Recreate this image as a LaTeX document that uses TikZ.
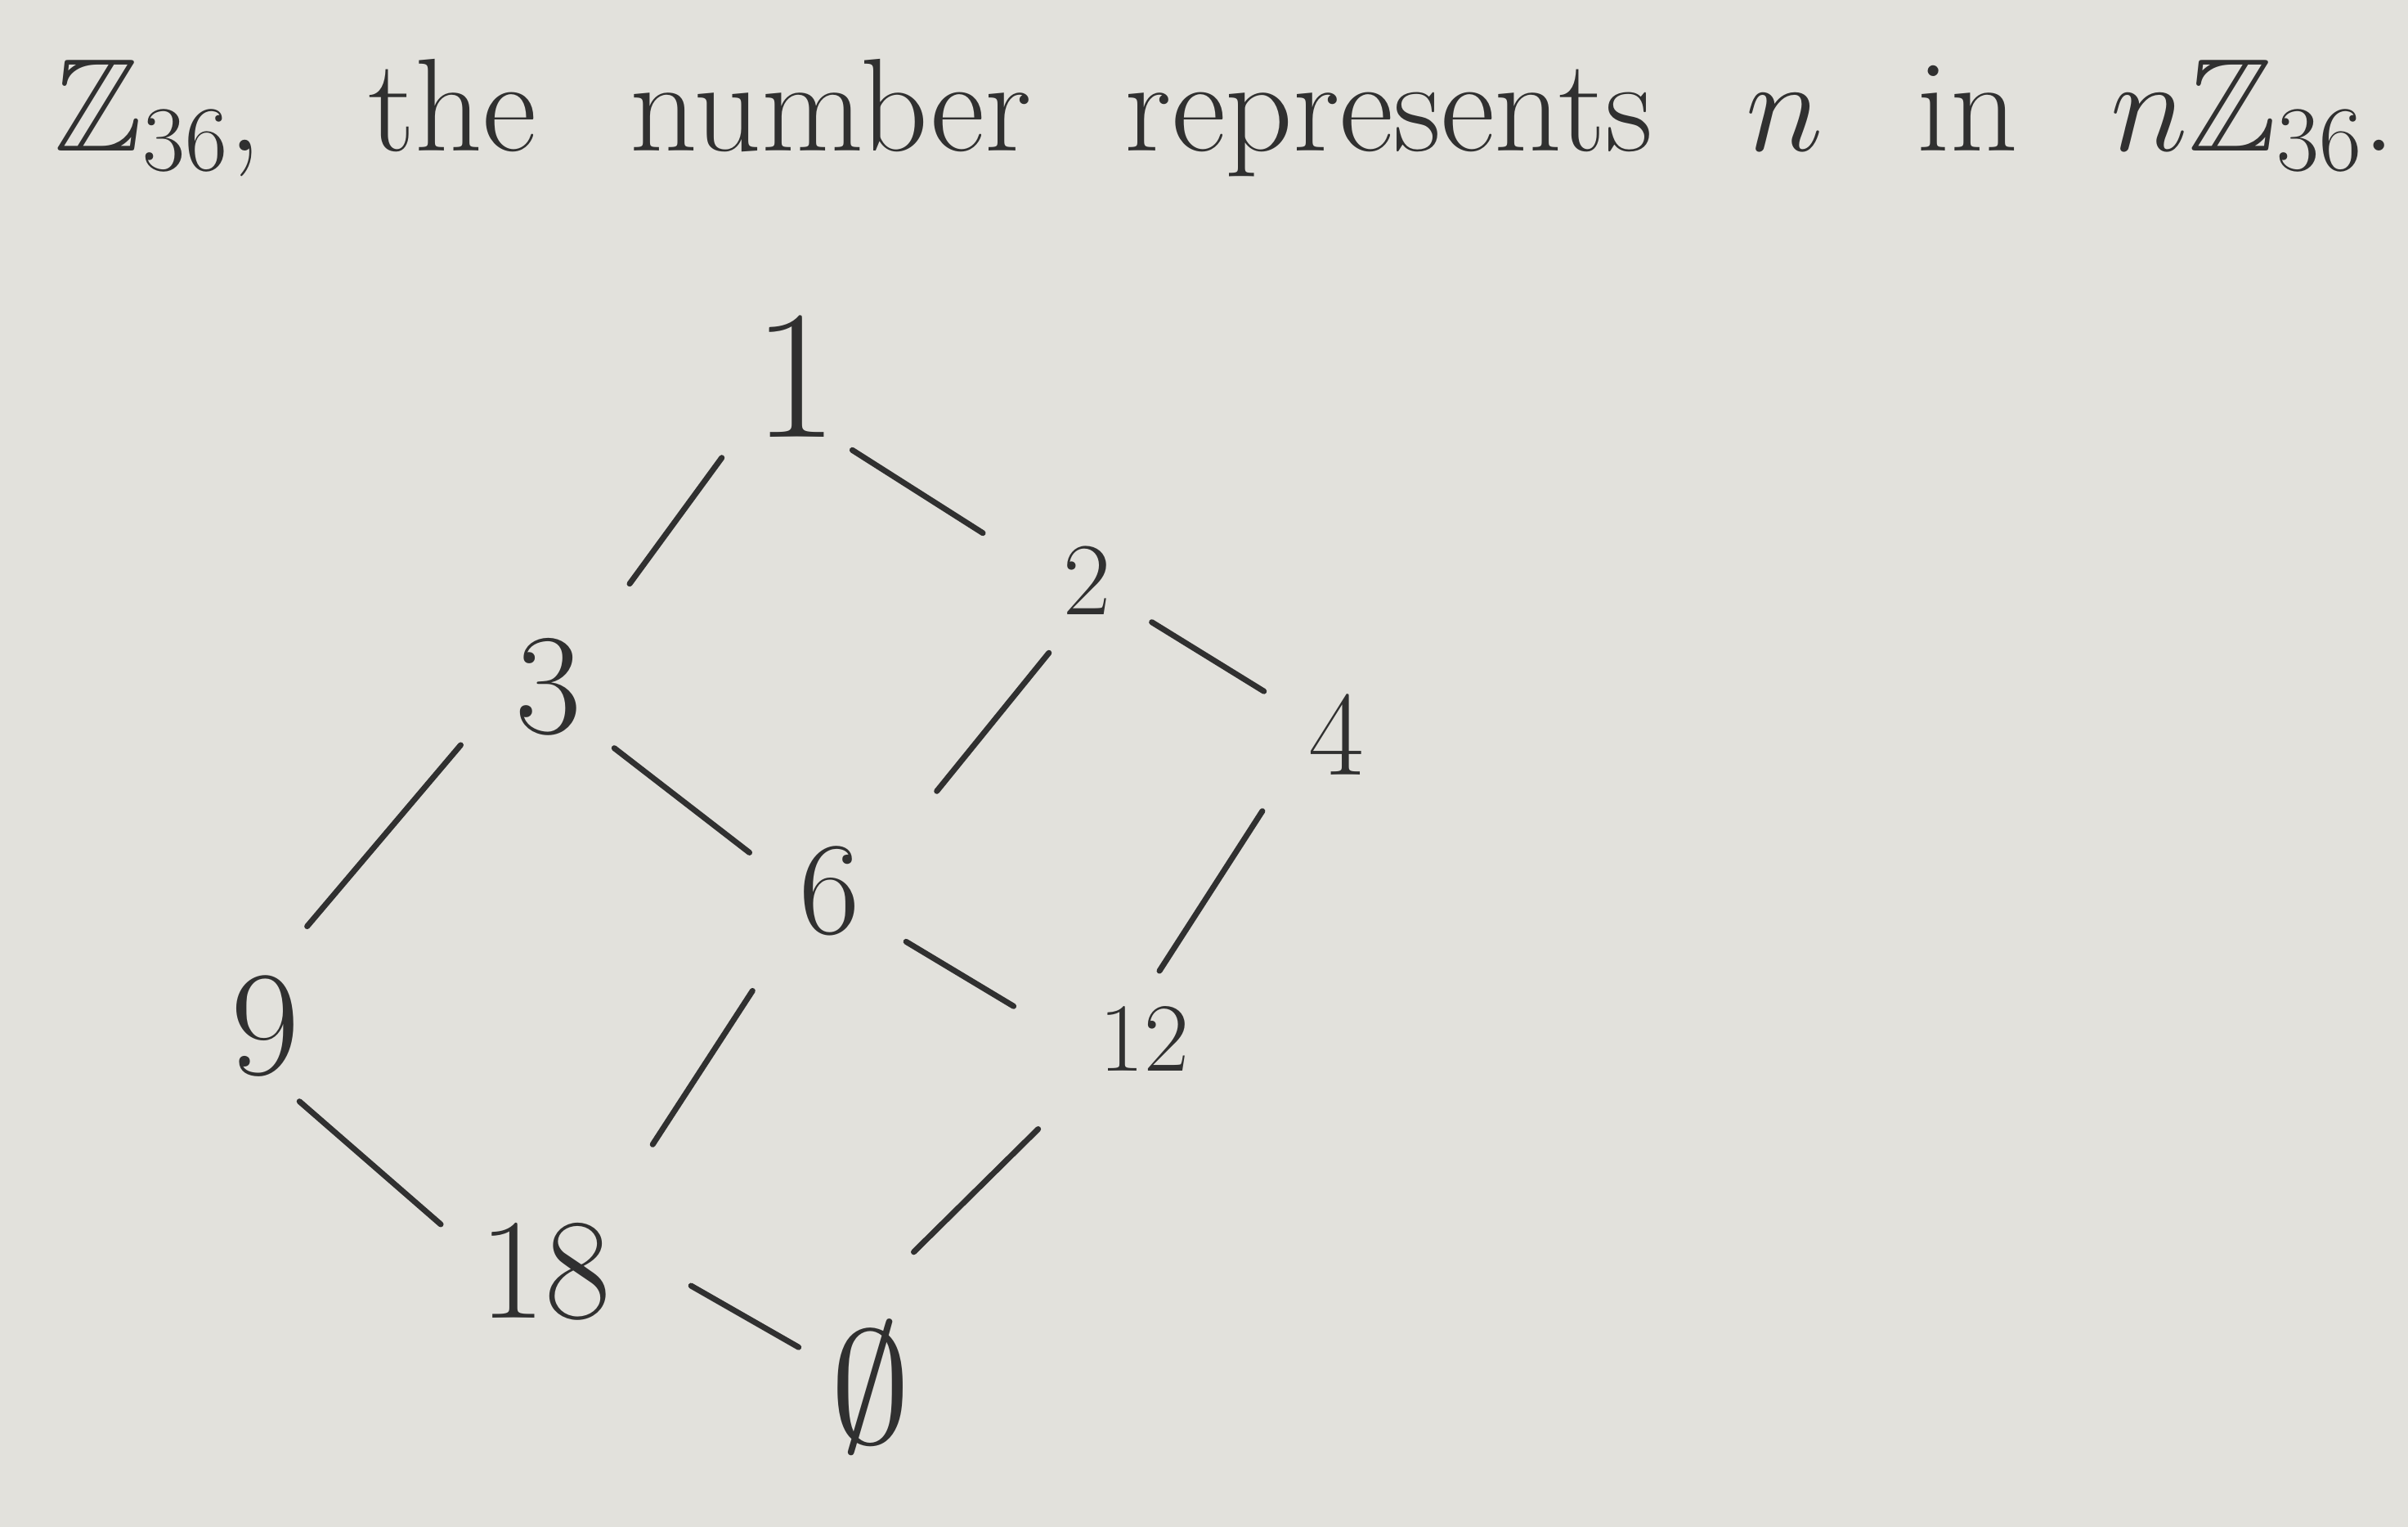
\RequirePackage{fix-cm}
\documentclass[tikz,border=0pt]{standalone}
\usepackage{amssymb}
\usetikzlibrary{calc}
\definecolor{paper}{RGB}{226,225,220}
\definecolor{ink}{RGB}{48,48,48}
\tikzset{
  num/.style={text=ink, inner sep=0pt, anchor=center},
  edge/.style={draw=ink, line width=2pt, line cap=round},
  titletext/.style={text=ink, inner sep=0pt, anchor=base west}
}
\newcommand{\fs}[1]{\fontsize{#1}{#1}\selectfont}
\begin{document}
\begin{tikzpicture}[x=0.01878cm, y=-0.01878cm]
\fill[paper] (0,0) rectangle (1568,994);
\useasboundingbox (0,0) rectangle (1568,994);

\node[titletext] (title) at (35,98) {\fs{46}\makebox[28.64cm][s]{$\mathbb{Z}_{36}$, the number represents $n$ in $n\mathbb{Z}_{36}$.}};

\node[num] (n1)  at (518,245) {\fs{64}1};
\node[num] (n2)  at (708,378) {\fs{36}2};
\node[num] (n3)  at (357,447) {\fs{50}3};
\node[num] (n4)  at (870,478) {\fs{42}4};
\node[num] (n6)  at (540,580) {\fs{46}6};
\node[num] (n9)  at (173,668) {\fs{52}9};
\node[num] (n12) at (745,676) {\fs{34}12};
\node[num] (n18) at (355,828) {\fs{50}18};
\node[num] (n0)  at (567,903) {\fs{56}$\emptyset$};

\draw[edge] ($(n1)+(-48,53)$) -- ($(n3)+(53,-67)$);
\draw[edge] ($(n1)+(37,48)$) -- ($(n2)+(-68,-31)$);
\draw[edge] ($(n2)+(42,27)$) -- ($(n4)+(-47,-28)$);
\draw[edge] ($(n2)+(-25,47)$) -- ($(n6)+(70,-65)$);
\draw[edge] ($(n3)+(-57,38)$) -- ($(n9)+(27,-65)$);
\draw[edge] ($(n3)+(43,40)$) -- ($(n6)+(-52,-25)$);
\draw[edge] ($(n4)+(-48,50)$) -- ($(n12)+(10,-44)$);
\draw[edge] ($(n6)+(50,33)$) -- ($(n12)+(-85,-21)$);
\draw[edge] ($(n6)+(-50,65)$) -- ($(n18)+(70,-83)$);
\draw[edge] ($(n9)+(22,49)$) -- ($(n18)+(-68,-31)$);
\draw[edge] ($(n12)+(-69,59)$) -- ($(n0)+(28,-88)$);
\draw[edge] ($(n18)+(95,9)$) -- ($(n0)+(-47,-26)$);
\end{tikzpicture}
\end{document}
